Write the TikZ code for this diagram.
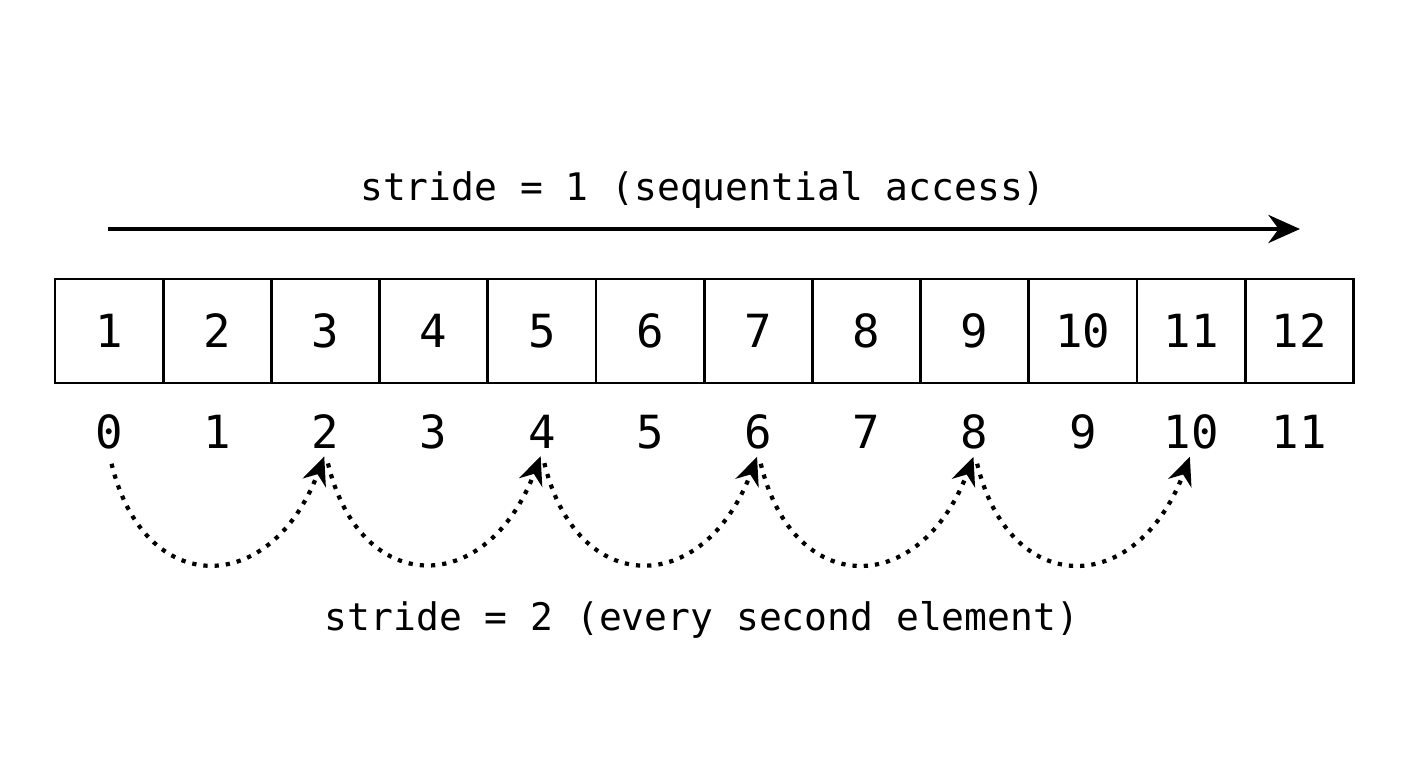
\documentclass[tikz,border=0pt]{standalone}
\usepackage{fontspec}
\setmonofont{DejaVu Sans Mono}
\usetikzlibrary{arrows.meta,positioning}

\begin{document}
\begin{tikzpicture}[
    cell/.style={draw, thick, minimum width=1.082cm, minimum height=1.04cm, inner sep=0pt, font=\ttfamily\fontsize{13}{15}\selectfont},
    idx/.style={inner sep=1pt, font=\ttfamily\fontsize{13}{15}\selectfont},
    lbl/.style={font=\ttfamily\fontsize{10.8}{13}\selectfont},
    hop/.style={line width=1.2pt, dotted, -{Stealth[length=8pt,width=7pt]}, shorten <=3pt, shorten >=1pt},
]
\useasboundingbox (0,0) rectangle (14.08,7.68);

% Array cells and their indices
\foreach \i in {1,...,12} {
    \pgfmathsetmacro{\xc}{0.55+1.082*(\i-0.5)}
    \pgfmathtruncatemacro{\k}{\i-1}
    \node[cell] (c\k) at (\xc,4.37) {\i};
    \node[idx] (i\k) at (\xc,3.36) {\k};
}

% Sequential access
\coordinate (s0) at (1.08,5.39);
\coordinate (s1) at (13.0,5.39);
\draw[line width=1.1pt, -{Stealth[length=9pt,width=8pt]}] (s0) -- (s1);
\node[lbl] (seq) at (7.03,5.78) {stride = 1 (sequential access)};

% Stride two hops
\foreach \a/\b in {0/2, 2/4, 4/6, 6/8, 8/10} {
    \draw[hop] (i\a.south) .. controls +(0.35,-1.45) and +(-0.55,-1.45) .. (i\b.south);
}
\node[lbl] (two) at (7.02,1.48) {stride = 2 (every second element)};

\end{tikzpicture}
\end{document}
